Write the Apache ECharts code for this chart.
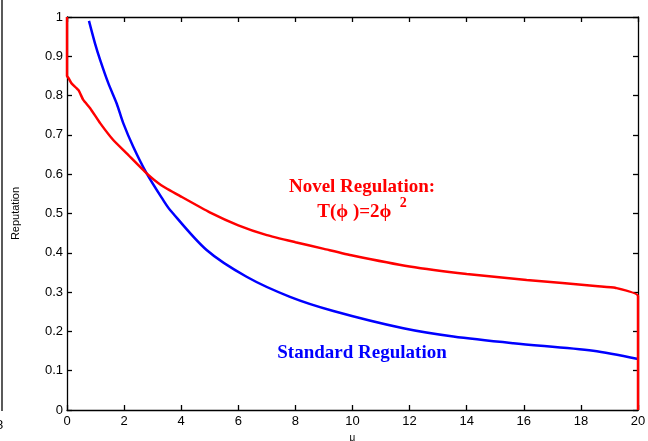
<!DOCTYPE html>
<html>
<head>
<meta charset="utf-8">
<script src="https://cdn.jsdelivr.net/npm/echarts@6/dist/echarts.min.js"></script>
<style>
  html, body { margin: 0; padding: 0; background: #fff; }
  #chart { width: 648px; height: 441px; }
</style>
</head>
<body>
<div id="chart"></div>
<script>
// reputation vs mu
var novelX = [0, 0, 0.05, 0.16, 0.4, 0.57, 0.81, 1.16, 1.62, 2.09, 2.79, 3.3, 4, 5, 6, 7, 8, 9, 10, 12, 14, 16.1, 18.6, 19.2, 20, 20];
var novelY = [1, 0.85, 0.845, 0.831, 0.814, 0.789, 0.768, 0.73, 0.687, 0.653, 0.602, 0.572, 0.543, 0.503, 0.47, 0.445, 0.427, 0.41, 0.393, 0.365, 0.346, 0.331, 0.315, 0.311, 0.29, 0];

var standardX = [0.77, 0.98, 1.16, 1.45, 1.74, 1.97, 2.32, 2.79, 3.37, 3.61, 4.89, 6.29, 7.81, 9.33, 11.78, 13.53, 15.63, 18.43, 20];
var standardY = [0.99, 0.933, 0.891, 0.831, 0.78, 0.73, 0.67, 0.602, 0.534, 0.509, 0.407, 0.339, 0.288, 0.252, 0.208, 0.187, 0.17, 0.151, 0.13];

function pairs(xs, ys) {
    var out = [];
    for (var i = 0; i < xs.length; i++) out.push([xs[i], ys[i]]);
    return out;
}

var myChart = echarts.init(document.getElementById('chart'));
var axisFont = {fontFamily: 'Liberation Sans, Arial, sans-serif', fontSize: 13, color: '#000'};
var lineStyleAxis = {color: '#000', width: 1.3};
var serifBold = '"Liberation Serif", "Times New Roman", serif';

var option = {
    animation: false,
    backgroundColor: '#fff',
    grid: {left: 67, right: 10, top: 17, bottom: 31, containLabel: false, outerBoundsMode: 'none'},
    xAxis: [{
        type: 'value', min: 0, max: 20, interval: 2,
        name: 'μ', nameLocation: 'middle', nameGap: 18,
        nameTextStyle: {fontFamily: 'Liberation Sans, Arial, sans-serif', fontSize: 10, color: '#000'},
        axisLine: {show: true, onZero: false, lineStyle: lineStyleAxis},
        axisTick: {inside: true, length: 5, lineStyle: lineStyleAxis},
        axisLabel: Object.assign({margin: 5}, axisFont),
        splitLine: {show: false}
    }, {
        type: 'value', min: 0, max: 20, interval: 2, position: 'top',
        axisLine: {show: true, onZero: false, lineStyle: lineStyleAxis},
        axisTick: {inside: true, length: 5, lineStyle: lineStyleAxis},
        axisLabel: {show: false},
        splitLine: {show: false}
    }],
    yAxis: [{
        type: 'value', min: 0, max: 1, interval: 0.1,
        name: 'Reputation', nameLocation: 'middle', nameGap: 46, nameRotate: 90,
        nameTextStyle: {fontFamily: 'Liberation Sans, Arial, sans-serif', fontSize: 11, color: '#000'},
        axisLine: {show: true, onZero: false, lineStyle: lineStyleAxis},
        axisTick: {inside: true, length: 5, lineStyle: lineStyleAxis},
        axisLabel: Object.assign({margin: 4, formatter: function (v) { return +v.toFixed(1) + ''; }}, axisFont),
        splitLine: {show: false}
    }, {
        type: 'value', min: 0, max: 1, interval: 0.1, position: 'right',
        axisLine: {show: true, onZero: false, lineStyle: lineStyleAxis},
        axisTick: {inside: true, length: 5, lineStyle: lineStyleAxis},
        axisLabel: {show: false},
        splitLine: {show: false}
    }],
    series: [{
        name: 'Novel Regulation',
        type: 'line',
        data: pairs(novelX, novelY),
        showSymbol: false,
        smooth: 0.15,
        lineStyle: {color: '#ff0000', width: 2.5},
        z: 3
    }, {
        name: 'Standard Regulation',
        type: 'line',
        data: pairs(standardX, standardY),
        showSymbol: false,
        smooth: 0.3,
        lineStyle: {color: '#0000ff', width: 2.5},
        z: 2
    }],
    graphic: [
        // edge of the neighbouring panel
        {type: 'line', shape: {x1: 2, y1: 0, x2: 2, y2: 411}, style: {stroke: '#000', lineWidth: 1.3}},
        {type: 'text', x: -4, y: 419, style: {text: '8', fill: '#000', font: '13px "Liberation Sans", Arial, sans-serif'}},
        {
            type: 'text', x: 362, y: 178,
            style: {
                text: 'Novel Regulation:',
                fill: '#ff0000',
                align: 'center',
                font: 'bold 19px ' + serifBold
            }
        },
        {
            type: 'text', x: 362, y: 193,
            style: {
                text: '{m|T(ϕ )=2ϕ }{s| 2}',
                align: 'center',
                rich: {
                    m: {fill: '#ff0000', font: 'bold 19px ' + serifBold, padding: [10, 0, 0, 0]},
                    s: {fill: '#ff0000', font: 'bold 14px ' + serifBold, padding: [0, 0, 8, 0]}
                }
            }
        },
        {
            type: 'text', x: 362, y: 344,
            style: {
                text: 'Standard Regulation',
                fill: '#0000ff',
                align: 'center',
                font: 'bold 19px ' + serifBold
            }
        }
    ]
};
myChart.setOption(option);
</script>
</body>
</html>
